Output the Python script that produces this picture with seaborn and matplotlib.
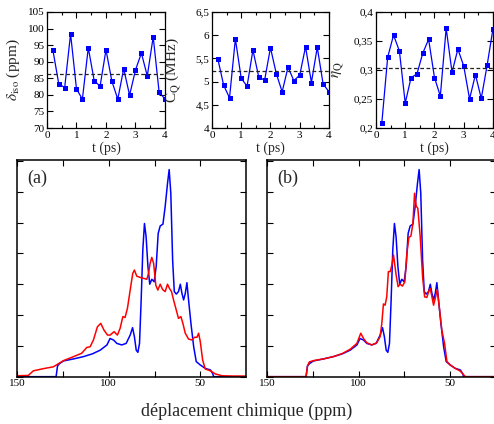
import matplotlib
matplotlib.use("Agg")
import matplotlib.pyplot as plt
from matplotlib.ticker import FixedLocator, MultipleLocator, FixedFormatter
import pandas as pd
import seaborn as sns

# ---- time series of NMR parameters (0.2 ps steps) ----
t_ps = [0.2, 0.4, 0.6, 0.8, 1.0, 1.2, 1.4, 1.6, 1.8, 2.0,
        2.2, 2.4, 2.6, 2.8, 3.0, 3.2, 3.4, 3.6, 3.8, 4.0]
delta_iso = [93.5, 83.3, 82.2, 98.4, 81.8, 78.7, 94.2, 84.3, 82.6, 93.6,
             84.1, 78.7, 87.9, 79.9, 87.5, 92.6, 85.7, 97.5, 80.9, 78.7]
cq_mhz = [5.49, 4.92, 4.65, 5.92, 5.07, 4.90, 5.68, 5.10, 5.03, 5.73,
          5.17, 4.78, 5.31, 5.02, 5.14, 5.75, 4.98, 5.74, 4.95, 4.78]
eta_q = [0.209, 0.322, 0.360, 0.333, 0.243, 0.287, 0.293, 0.329, 0.353, 0.287,
         0.255, 0.372, 0.296, 0.336, 0.307, 0.250, 0.292, 0.251, 0.308, 0.371]
mean_delta_iso = 86.3
mean_cq = 5.22
mean_eta_q = 0.303

delta_ticks = [70, 75, 80, 85, 90, 95, 100, 105]
delta_labels = ["70", "75", "80", "85", "90", "95", "100", "105"]
cq_ticks = [4.0, 4.5, 5.0, 5.5, 6.0, 6.5]
cq_labels = ["4", "4,5", "5", "5,5", "6", "6,5"]
eta_ticks = [0.20, 0.25, 0.30, 0.35, 0.40]
eta_labels = ["0,2", "0,25", "0,3", "0,35", "0,4"]
t_ticks = [0, 1, 2, 3, 4]
t_labels = ["0", "1", "2", "3", "4"]

# ---- simulated spectra ----
blue_ppm = [150, 128.8, 128.0, 127.0, 124.8, 119.0, 113.9, 109.0, 104.7, 101.0,
            99.3, 98.6, 97.4, 95.6, 92.9, 90.5, 88.3, 87.0, 86.0, 85.0,
            84.1, 83.2, 82.3, 81.4, 80.5, 79.6, 78.6, 77.6, 76.5, 75.2,
            74.1, 73.0, 71.9, 70.4, 69.2, 67.9, 67.0, 66.1, 65.1, 64.2,
            63.1, 61.9, 60.9, 60.0, 59.1, 58.2, 57.3, 56.4, 55.1, 53.6,
            52.2, 50.0, 47.3, 44.5, 43.2, 42.7, 25]
blue_int = [0, 0, 0.35, 0.42, 0.51, 0.58, 0.65, 0.74, 0.86, 1.03,
            1.24, 1.22, 1.19, 1.08, 1.03, 1.08, 1.35, 1.59, 1.30, 0.86,
            0.79, 1.08, 2.49, 4.11, 4.97, 4.54, 3.57, 3.00, 3.16, 3.08,
            3.57, 4.65, 4.89, 4.95, 5.51, 6.27, 6.72, 5.95, 3.78, 2.76,
            2.68, 2.76, 3.00, 2.70, 2.49, 2.70, 3.05, 2.49, 1.73, 0.97,
            0.49, 0.38, 0.27, 0.22, 0.10, 0, 0]

red_a_ppm = [150, 144, 141.2, 135.8, 130.3, 124.8, 119.3, 114.8, 112.0, 110.2,
             108.4, 106.2, 104.4, 102.6, 100.7, 99.3, 97.1, 95.3, 93.8, 92.3,
             91.1, 89.8, 88.3, 86.9, 86.0, 84.7, 82.8, 81.0, 79.2, 78.3,
             77.4, 76.5, 75.5, 74.3, 73.2, 71.9, 70.6, 69.2, 67.9, 66.8,
             65.7, 64.6, 63.1, 61.9, 60.6, 59.5, 58.2, 56.4, 54.6, 53.1,
             51.8, 50.9, 50.0, 48.7, 47.3, 44.5, 41.8, 38.1, 31.8, 25]
red_a_int = [0.03, 0.04, 0.19, 0.26, 0.32, 0.52, 0.65, 0.76, 0.95, 0.97,
             1.19, 1.62, 1.73, 1.51, 1.35, 1.35, 1.46, 1.35, 1.57, 1.95,
             1.92, 2.22, 2.81, 3.35, 3.46, 3.26, 3.22, 3.19, 3.16, 3.35,
             3.68, 3.87, 3.68, 2.97, 2.81, 3.00, 2.83, 2.76, 3.00, 2.86,
             2.76, 2.49, 2.16, 1.89, 1.95, 1.73, 1.41, 1.22, 1.19, 1.28,
             1.28, 1.41, 1.14, 0.54, 0.25, 0.19, 0.09, 0.03, 0.02, 0.02]

red_b_ppm = [150, 128.8, 128.0, 127.0, 124.8, 119.0, 113.9, 109.0, 104.7, 101.0,
             98.9, 97.4, 95.6, 92.9, 90.2, 88.3, 87.4, 86.5, 85.6, 84.7,
             83.8, 82.8, 81.9, 81.0, 79.7, 78.5, 77.4, 76.1, 74.8, 73.7,
             72.6, 71.5, 70.4, 69.5, 68.6, 67.7, 66.4, 65.1, 64.0, 62.8,
             61.5, 60.9, 60.0, 59.1, 58.0, 57.1, 56.0, 54.6, 53.1, 51.8,
             50.0, 47.3, 44.5, 42.5, 41.8, 25]
red_b_int = [0, 0, 0.35, 0.48, 0.52, 0.58, 0.65, 0.75, 0.89, 1.08,
             1.41, 1.24, 1.10, 1.03, 1.10, 1.30, 1.73, 2.36, 2.32, 2.59,
             3.41, 3.41, 3.62, 3.95, 3.35, 2.92, 3.00, 2.94, 3.08, 4.00,
             4.52, 4.56, 4.97, 5.95, 5.54, 5.46, 4.54, 3.24, 2.59, 2.57,
             2.81, 2.86, 2.59, 2.32, 2.59, 2.83, 2.27, 1.51, 1.08, 0.49,
             0.38, 0.27, 0.18, 0.05, 0, 0]

ppm_ticks = [150, 125, 100, 75, 50]
ppm_labels = ["150", "", "100", "", "50"]

sns.set_theme(style="ticks")
plt.rcParams["font.family"] = ["Liberation Serif", "DejaVu Serif"]
plt.rcParams["mathtext.fontset"] = "stix"

BLUE = "#0000ff"
RED = "#ff0000"

fig = plt.figure(figsize=(4.94, 4.24), dpi=100)


def style_axes(ax, lw=0.9):
    for s in ax.spines.values():
        s.set_linewidth(lw)
        s.set_color("black")
    ax.tick_params(which="both", direction="in", top=True, right=True,
                   colors="black", labelsize=8, pad=2, width=0.8)
    ax.tick_params(which="major", length=4)
    ax.tick_params(which="minor", length=2.5)


def top_panel(rect, values, mean, ticks, labels, ylabel, label_x):
    ax = fig.add_axes(rect)
    df = pd.DataFrame({"t": t_ps, "v": values})
    sns.lineplot(data=df, x="t", y="v", ax=ax, color=BLUE, lw=0.9,
                 marker="s", markersize=3.6, markeredgewidth=0,
                 markerfacecolor=BLUE, estimator=None, sort=False)
    ax.axhline(mean, color="#222222", lw=0.9, ls=(0, (3, 2)))
    ax.set_xlim(0, 4)
    ax.set_ylim(ticks[0], ticks[-1])
    ax.xaxis.set_major_locator(FixedLocator(t_ticks))
    ax.xaxis.set_major_formatter(FixedFormatter(t_labels))
    ax.xaxis.set_minor_locator(MultipleLocator(0.5))
    ax.yaxis.set_major_locator(FixedLocator(ticks))
    ax.yaxis.set_major_formatter(FixedFormatter(labels))
    style_axes(ax)
    ax.set_xlabel("t (ps)", fontsize=10, labelpad=1)
    ax.set_ylabel(ylabel, fontsize=11)
    ax.yaxis.set_label_coords(label_x, 0.5)
    return ax


top_panel([0.0951, 0.6981, 0.2389, 0.2736], delta_iso, mean_delta_iso,
          delta_ticks, delta_labels, r"$\delta_{\rm iso}$ (ppm)", -0.21)
top_panel([0.4291, 0.6981, 0.2368, 0.2736], cq_mhz, mean_cq,
          cq_ticks, cq_labels, r"C$_{\rm Q}$ (MHz)", -0.24)
top_panel([0.7611, 0.6981, 0.2368, 0.2736], eta_q, mean_eta_q,
          eta_ticks, eta_labels, r"$\eta_{\rm Q}$", -0.25)


def spectrum_panel(rect, red_ppm, red_int, tag):
    ax = fig.add_axes(rect)
    sns.lineplot(x=blue_ppm, y=blue_int, ax=ax, color=BLUE, lw=1.1,
                 estimator=None, sort=False)
    sns.lineplot(x=red_ppm, y=red_int, ax=ax, color=RED, lw=1.1,
                 estimator=None, sort=False)
    ax.set_xlim(150, 25)
    ax.set_ylim(0, 7.03)
    ax.xaxis.set_major_locator(FixedLocator(ppm_ticks))
    ax.xaxis.set_major_formatter(FixedFormatter(ppm_labels))
    ax.yaxis.set_major_locator(MultipleLocator(1))
    ax.set_yticklabels([])
    style_axes(ax, lw=1.1)
    ax.tick_params(which="major", length=4.5)
    ax.set_xlabel("")
    ax.set_ylabel("")
    ax.text(0.045, 0.955, tag, transform=ax.transAxes, fontsize=13,
            ha="left", va="top")
    return ax


spectrum_panel([0.035, 0.1116, 0.463, 0.511], red_a_ppm, red_a_int, "(a)")
spectrum_panel([0.541, 0.1116, 0.463, 0.511], red_b_ppm, red_b_int, "(b)")

fig.text(0.5, 0.03, "déplacement chimique (ppm)", ha="center", va="center",
         fontsize=13)

fig.savefig("out.png", dpi=100)
